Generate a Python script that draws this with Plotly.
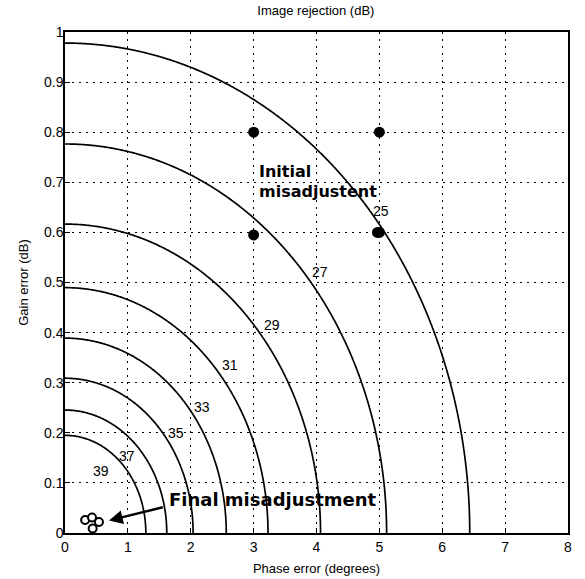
import numpy as np
import plotly.graph_objects as go

# Contour levels of image rejection (dB)
levels = [25, 27, 29, 31, 33, 35, 37, 39]
# Contour label positions (phase deg, gain dB)
label_x = [5.02, 4.05, 3.3, 2.62, 2.18, 1.76, 0.98, 0.58]
label_y = [0.643, 0.52, 0.415, 0.335, 0.252, 0.20, 0.153, 0.124]

# Initial misadjustment points
init_phase = [3, 5, 3, 5, 4.97]
init_gain = [0.8, 0.8, 0.595, 0.6, 0.6]

# Final misadjustment points
final_phase = [0.32, 0.43, 0.54, 0.44]
final_gain = [0.026, 0.031, 0.022, 0.009]

# Grid of phase / gain errors for image-rejection surface
phase = np.linspace(0, 8, 401)
gain = np.linspace(0, 1, 301)
P, G = np.meshgrid(phase, gain)
g = 10 ** (G / 20)
c = np.cos(np.deg2rad(P))
irr = 10 * np.log10((1 + 2 * g * c + g ** 2) / (1 - 2 * g * c + g ** 2))

FONT = "Liberation Sans, Arial, sans-serif"
BOLD = "DejaVu Sans, sans-serif"

fig = go.Figure()
fig.add_trace(go.Contour(
    x=phase, y=gain, z=irr,
    contours=dict(start=levels[0], end=levels[-1], size=2, coloring="lines", showlabels=False),
    line=dict(color="black", width=1.7),
    colorscale=[[0, "black"], [1, "black"]],
    showscale=False, hoverinfo="skip",
))
fig.add_trace(go.Scatter(
    x=init_phase, y=init_gain, mode="markers",
    marker=dict(color="black", size=11),
))
fig.add_trace(go.Scatter(
    x=final_phase, y=final_gain, mode="markers",
    marker=dict(color="white", size=8, line=dict(color="black", width=2)),
))

for lv, lx, ly in zip(levels, label_x, label_y):
    fig.add_annotation(x=lx, y=ly, text=str(lv), showarrow=False,
                       font=dict(family=FONT, size=14, color="black"))

fig.add_annotation(x=3.05, y=0.722, text="<b>Initial</b>", showarrow=False, xanchor="left",
                   font=dict(family=BOLD, size=16, color="black"))
fig.add_annotation(x=3.05, y=0.682, text="<b>misadjustent</b>", showarrow=False, xanchor="left",
                   font=dict(family=BOLD, size=16, color="black"))
fig.add_annotation(x=1.63, y=0.066, text="<b>Final misadjustment</b>", showarrow=False, xanchor="left",
                   font=dict(family=BOLD, size=18, color="black"))
fig.add_annotation(x=0.7, y=0.025, ax=1.58, ay=0.052, xref="x", yref="y", axref="x", ayref="y",
                   text="", showarrow=True, arrowhead=2, arrowsize=1.1, arrowwidth=2.5, arrowcolor="black")

fig.update_layout(
    width=585, height=579,
    margin=dict(l=65, r=17, t=32, b=46),
    paper_bgcolor="white", plot_bgcolor="white",
    showlegend=False,
    font=dict(family=FONT, size=14, color="black"),
    title=dict(text="Image rejection (dB)", x=0.54, xanchor="center", y=0.99, yanchor="top",
               font=dict(family=FONT, size=13)),
)
fig.update_xaxes(range=[0, 8], dtick=1, tick0=0, showline=True, mirror=True, linecolor="black", linewidth=1.5,
                 ticks="inside", ticklen=5, tickcolor="black", automargin=False,
                 showgrid=True, gridcolor="black", gridwidth=1.3, griddash="1.5px,5.5px", zeroline=False,
                 title=dict(text="Phase error (degrees)", font=dict(size=13), standoff=10))
fig.update_yaxes(range=[0, 1], dtick=0.1, tick0=0, showline=True, mirror=True, linecolor="black", linewidth=1.5,
                 ticks="inside", ticklen=5, tickcolor="black", ticklabelstandoff=-3, automargin=False,
                 showgrid=True, gridcolor="black", gridwidth=1.3, griddash="1.5px,5.5px", zeroline=False,
                 title=dict(text="Gain error (dB)", font=dict(size=13), standoff=12))

fig.write_html("out.html", config={"displayModeBar": False},
               post_script="document.body.style.margin='0';")
